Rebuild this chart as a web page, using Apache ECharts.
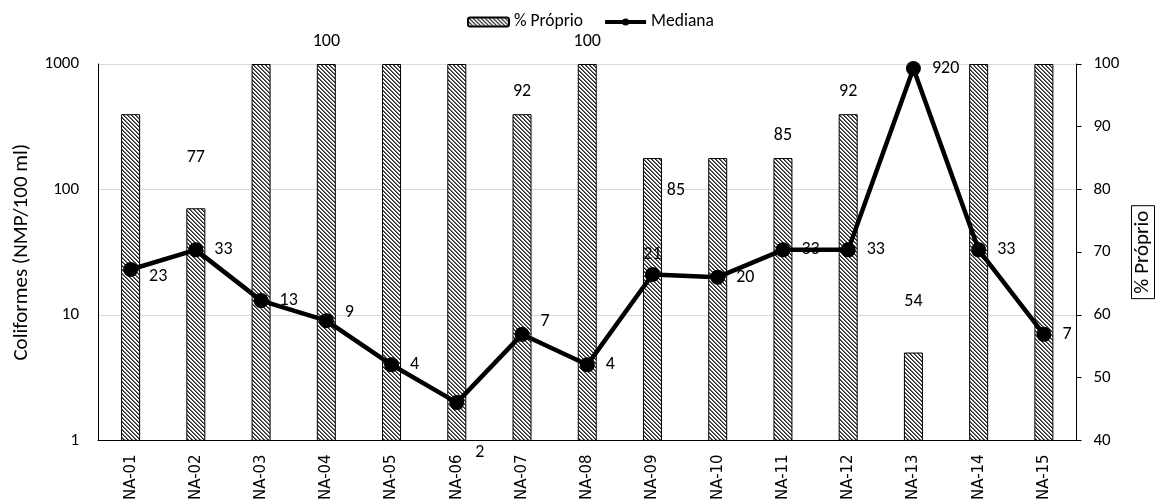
<!DOCTYPE html>
<html>
<head>
<meta charset="utf-8">
<script src="https://cdn.jsdelivr.net/npm/echarts@6/dist/echarts.min.js"></script>
<style>
  html, body { margin: 0; padding: 0; background: #fff; }
  #chart { width: 1163px; height: 503px; }
</style>
</head>
<body>
<div id="chart"></div>
<script>
// Sampling points
const categories = ['NA-01','NA-02','NA-03','NA-04','NA-05','NA-06','NA-07','NA-08','NA-09','NA-10','NA-11','NA-12','NA-13','NA-14','NA-15'];
// % of samples classified as "Próprio"
const proprioPct = [92, 77, 100, 100, 100, 100, 92, 100, 85, 85, 85, 92, 54, 100, 100];
// Median coliforms (NMP/100 ml)
const mediana = [23, 33, 13, 9, 4, 2, 7, 4, 21, 20, 33, 33, 920, 33, 7];
// Axis ticks
const leftTicks = [1, 10, 100, 1000];
const rightTicks = [40, 50, 60, 70, 80, 90, 100];

const FONT = 'Carlito, Calibri, Lato, "Open Sans", sans-serif';

// Which bar values carry a label, and how it sits
const barLabelStyle = {
  1: { position: 'top', distance: 42 },
  3: { position: 'top', distance: 14 },
  6: { position: 'top', distance: 14 },
  7: { position: 'top', distance: 14 },
  8: { position: [33, 32], align: 'center', verticalAlign: 'middle' },
  10: { position: 'top', distance: 14 },
  11: { position: 'top', distance: 14 },
  12: { position: 'top', distance: 42 }
};
// Line label tweaks
const lineLabelStyle = {
  0: { offset: [0, 7] },
  3: { offset: [0, -8] },
  5: { offset: [0, 50] },
  6: { offset: [0, -13] },
  8: { position: 'top', distance: 3 }
};

// Diagonal hatch fill for the bars
function hatch() {
  const c = document.createElement('canvas');
  c.width = 8; c.height = 8;
  const ctx = c.getContext('2d');
  ctx.fillStyle = '#ffffff';
  ctx.fillRect(0, 0, 8, 8);
  for (let y = 0; y < 8; y++) {
    for (let x = 0; x < 8; x++) {
      const k = (((x - y) % 4) + 4) % 4;
      if (k === 0) { ctx.fillStyle = '#2a2a2a'; ctx.fillRect(x, y, 1, 1); }
      else if (k === 1) { ctx.fillStyle = '#6a6a6a'; ctx.fillRect(x, y, 1, 1); }
    }
  }
  return { image: c, repeat: 'repeat' };
}

const barData = proprioPct.map((v, i) => {
  const s = barLabelStyle[i];
  return s ? { value: v, label: Object.assign({ show: true }, s) } : { value: v, label: { show: false } };
});
const lineData = mediana.map((v, i) => {
  const s = lineLabelStyle[i];
  return s ? { value: v, label: Object.assign({}, s) } : v;
});

const chart = echarts.init(document.getElementById('chart'), null, { renderer: 'canvas' });
chart.setOption({
  animation: false,
  backgroundColor: '#fff',
  textStyle: { fontFamily: FONT },
  legend: {
    top: 8,
    left: 462,
    itemGap: 20,
    itemWidth: 41,
    itemHeight: 9,
    textStyle: { fontFamily: FONT, fontSize: 17.5, color: '#000' },
    data: ['% Próprio', { name: 'Mediana', lineStyle: { width: 4 } }]
  },
  grid: { left: 98, right: 83, top: 64, bottom: 62, containLabel: false },
  xAxis: {
    type: 'category',
    data: categories,
    axisLine: { lineStyle: { color: '#000', width: 1 } },
    axisTick: { show: false },
    axisLabel: { rotate: 90, margin: 14, fontSize: 15, color: '#000', fontFamily: '"DejaVu Sans", sans-serif' }
  },
  yAxis: [
    {
      type: 'log',
      logBase: 10,
      min: leftTicks[0],
      max: leftTicks[leftTicks.length - 1],
      name: 'Coliformes (NMP/100 ml)',
      nameLocation: 'middle',
      nameGap: 66,
      nameTextStyle: { fontSize: 21, color: '#000', fontFamily: FONT },
      axisLine: { show: true, lineStyle: { color: '#000', width: 1 } },
      axisTick: { show: false },
      axisLabel: { margin: 19, fontSize: 17, color: '#000', fontFamily: FONT, formatter: v => String(v) },
      splitLine: { lineStyle: { color: '#d9d9d9', width: 1 } }
    },
    {
      type: 'value',
      min: rightTicks[0],
      max: rightTicks[rightTicks.length - 1],
      interval: 10,
      name: '% Próprio',
      nameLocation: 'middle',
      nameGap: 55,
      nameRotate: 90,
      nameTextStyle: {
        fontSize: 21, color: '#000', fontFamily: FONT,
        borderColor: '#000', borderWidth: 1, padding: [1, 5, 1, 5]
      },
      axisLine: { show: true, lineStyle: { color: '#000', width: 1 } },
      axisTick: { show: true, length: 5, lineStyle: { color: '#000' } },
      axisLabel: { margin: 17, fontSize: 17, color: '#000', fontFamily: FONT },
      splitLine: { show: false }
    }
  ],
  series: [
    {
      name: '% Próprio',
      type: 'bar',
      yAxisIndex: 1,
      barWidth: 19,
      data: barData,
      itemStyle: { color: hatch(), borderColor: '#000', borderWidth: 1 },
      label: { fontSize: 18, color: '#000', fontFamily: FONT },
      z: 2
    },
    {
      name: 'Mediana',
      type: 'line',
      yAxisIndex: 0,
      data: lineData,
      symbol: 'circle',
      symbolSize: 15,
      lineStyle: { color: '#000', width: 4.5 },
      itemStyle: { color: '#000' },
      label: { show: true, position: 'right', distance: 11, fontSize: 18, color: '#000', fontFamily: FONT },
      z: 5
    }
  ]
});
</script>
</body>
</html>
